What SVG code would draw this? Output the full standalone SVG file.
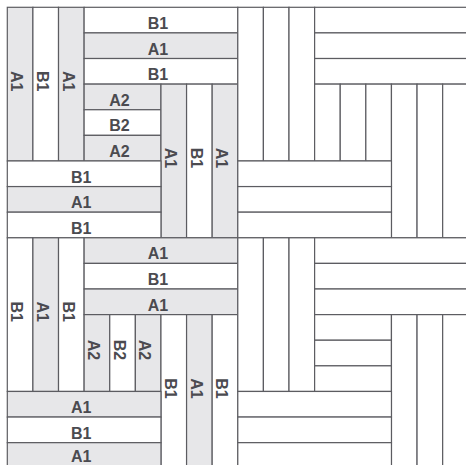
<svg xmlns="http://www.w3.org/2000/svg" width="466" height="465" viewBox="0 0 466 465">
<style>
rect{stroke:#5c5c61;stroke-width:1.2}
.a{fill:#e7e7e9}
.b{fill:#ffffff}
text{font-family:"Liberation Sans",Arial,sans-serif;font-weight:bold;font-size:16px;fill:#4b4b50;text-anchor:middle}
</style>
<rect x="0" y="0" width="466" height="465" fill="#ffffff" style="stroke:none"/>
<g id="tile-top-left">
<g id="tl-v1"><rect class="a" x="7.3" y="7.3" width="25.61" height="153.66"/><text transform="translate(20.105 84.13) rotate(90)" x="-3" y="8.8">A1</text></g>
<g id="tl-v2"><rect class="b" x="32.91" y="7.3" width="25.61" height="153.66"/><text transform="translate(45.715 84.13) rotate(90)" x="-3" y="8.8">B1</text></g>
<g id="tl-v3"><rect class="a" x="58.52" y="7.3" width="25.61" height="153.66"/><text transform="translate(71.325 84.13) rotate(90)" x="-3" y="8.8">A1</text></g>
<g id="tl-h1"><rect class="b" x="84.13" y="7.3" width="153.66" height="25.61"/><text x="157.96" y="28.9">B1</text></g>
<g id="tl-h2"><rect class="a" x="84.13" y="32.91" width="153.66" height="25.61"/><text x="157.96" y="54.5">A1</text></g>
<g id="tl-h3"><rect class="b" x="84.13" y="58.52" width="153.66" height="25.61"/><text x="157.96" y="80.1">B1</text></g>
<g id="tl-s1"><rect class="a" x="84.13" y="84.13" width="76.83" height="25.61"/><text x="119.5" y="105.7">A2</text></g>
<g id="tl-s2"><rect class="b" x="84.13" y="109.74" width="76.83" height="25.61"/><text x="119.5" y="131.3">B2</text></g>
<g id="tl-s3"><rect class="a" x="84.13" y="135.35" width="76.83" height="25.61"/><text x="119.5" y="157.0">A2</text></g>
<g id="tl-v4"><rect class="a" x="160.96" y="84.13" width="25.61" height="153.66"/><text transform="translate(173.765 160.96) rotate(90)" x="-3" y="8.8">A1</text></g>
<g id="tl-v5"><rect class="b" x="186.57" y="84.13" width="25.61" height="153.66"/><text transform="translate(199.375 160.96) rotate(90)" x="-3" y="8.8">B1</text></g>
<g id="tl-v6"><rect class="a" x="212.18" y="84.13" width="25.61" height="153.66"/><text transform="translate(224.985 160.96) rotate(90)" x="-3" y="8.8">A1</text></g>
<g id="tl-h4"><rect class="b" x="7.3" y="160.96" width="153.66" height="25.61"/><text x="81.13" y="182.6">B1</text></g>
<g id="tl-h5"><rect class="a" x="7.3" y="186.57" width="153.66" height="25.61"/><text x="81.13" y="208.2">A1</text></g>
<g id="tl-h6"><rect class="b" x="7.3" y="212.18" width="153.66" height="25.61"/><text x="81.13" y="233.8">B1</text></g>
</g>
<g id="tile-bottom-left">
<g id="bl-v1"><rect class="b" x="7.3" y="237.79" width="25.61" height="153.66"/><text transform="translate(20.105 314.62) rotate(90)" x="-3" y="8.8">B1</text></g>
<g id="bl-v2"><rect class="a" x="32.91" y="237.79" width="25.61" height="153.66"/><text transform="translate(45.715 314.62) rotate(90)" x="-3" y="8.8">A1</text></g>
<g id="bl-v3"><rect class="b" x="58.52" y="237.79" width="25.61" height="153.66"/><text transform="translate(71.325 314.62) rotate(90)" x="-3" y="8.8">B1</text></g>
<g id="bl-h1"><rect class="a" x="84.13" y="237.79" width="153.66" height="25.61"/><text x="157.96" y="259.4">A1</text></g>
<g id="bl-h2"><rect class="b" x="84.13" y="263.4" width="153.66" height="25.61"/><text x="157.96" y="285.0">B1</text></g>
<g id="bl-h3"><rect class="a" x="84.13" y="289.01" width="153.66" height="25.61"/><text x="157.96" y="310.6">A1</text></g>
<g id="bl-s1"><rect class="a" x="84.13" y="314.62" width="25.61" height="76.83"/><text transform="translate(96.935 353.035) rotate(90)" x="-3" y="8.8">A2</text></g>
<g id="bl-s2"><rect class="b" x="109.74" y="314.62" width="25.61" height="76.83"/><text transform="translate(122.545 353.035) rotate(90)" x="-3" y="8.8">B2</text></g>
<g id="bl-s3"><rect class="a" x="135.35" y="314.62" width="25.61" height="76.83"/><text transform="translate(148.155 353.035) rotate(90)" x="-3" y="8.8">A2</text></g>
<g id="bl-v4"><rect class="b" x="160.96" y="314.62" width="25.61" height="153.66"/><text transform="translate(173.765 391.45) rotate(90)" x="-3" y="8.8">B1</text></g>
<g id="bl-v5"><rect class="a" x="186.57" y="314.62" width="25.61" height="153.66"/><text transform="translate(199.375 391.45) rotate(90)" x="-3" y="8.8">A1</text></g>
<g id="bl-v6"><rect class="b" x="212.18" y="314.62" width="25.61" height="153.66"/><text transform="translate(224.985 391.45) rotate(90)" x="-3" y="8.8">B1</text></g>
<g id="bl-h4"><rect class="a" x="7.3" y="391.45" width="153.66" height="25.61"/><text x="81.13" y="413.1">A1</text></g>
<g id="bl-h5"><rect class="b" x="7.3" y="417.06" width="153.66" height="25.61"/><text x="81.13" y="438.7">B1</text></g>
<g id="bl-h6"><rect class="a" x="7.3" y="442.67" width="153.66" height="25.61"/><text x="81.13" y="462.3">A1</text></g>
</g>
<g id="tile-top-right">
<rect class="b" x="237.79" y="7.3" width="25.61" height="153.66"/>
<rect class="b" x="263.4" y="7.3" width="25.61" height="153.66"/>
<rect class="b" x="289.01" y="7.3" width="25.61" height="153.66"/>
<rect class="b" x="314.62" y="7.3" width="153.66" height="25.61"/>
<rect class="b" x="314.62" y="32.91" width="153.66" height="25.61"/>
<rect class="b" x="314.62" y="58.52" width="153.66" height="25.61"/>
<rect class="b" x="314.62" y="84.13" width="25.61" height="76.83"/>
<rect class="b" x="340.23" y="84.13" width="25.61" height="76.83"/>
<rect class="b" x="365.84" y="84.13" width="25.61" height="76.83"/>
<rect class="b" x="391.45" y="84.13" width="25.61" height="153.66"/>
<rect class="b" x="417.06" y="84.13" width="25.61" height="153.66"/>
<rect class="b" x="442.67" y="84.13" width="25.61" height="153.66"/>
<rect class="b" x="237.79" y="160.96" width="153.66" height="25.61"/>
<rect class="b" x="237.79" y="186.57" width="153.66" height="25.61"/>
<rect class="b" x="237.79" y="212.18" width="153.66" height="25.61"/>
</g>
<g id="tile-bottom-right">
<rect class="b" x="237.79" y="237.79" width="25.61" height="153.66"/>
<rect class="b" x="263.4" y="237.79" width="25.61" height="153.66"/>
<rect class="b" x="289.01" y="237.79" width="25.61" height="153.66"/>
<rect class="b" x="314.62" y="237.79" width="153.66" height="25.61"/>
<rect class="b" x="314.62" y="263.4" width="153.66" height="25.61"/>
<rect class="b" x="314.62" y="289.01" width="153.66" height="25.61"/>
<rect class="b" x="314.62" y="314.62" width="76.83" height="25.61"/>
<rect class="b" x="314.62" y="340.23" width="76.83" height="25.61"/>
<rect class="b" x="314.62" y="365.84" width="76.83" height="25.61"/>
<rect class="b" x="391.45" y="314.62" width="25.61" height="153.66"/>
<rect class="b" x="417.06" y="314.62" width="25.61" height="153.66"/>
<rect class="b" x="442.67" y="314.62" width="25.61" height="153.66"/>
<rect class="b" x="237.79" y="391.45" width="153.66" height="25.61"/>
<rect class="b" x="237.79" y="417.06" width="153.66" height="25.61"/>
<rect class="b" x="237.79" y="442.67" width="153.66" height="25.61"/>
</g>
</svg>
